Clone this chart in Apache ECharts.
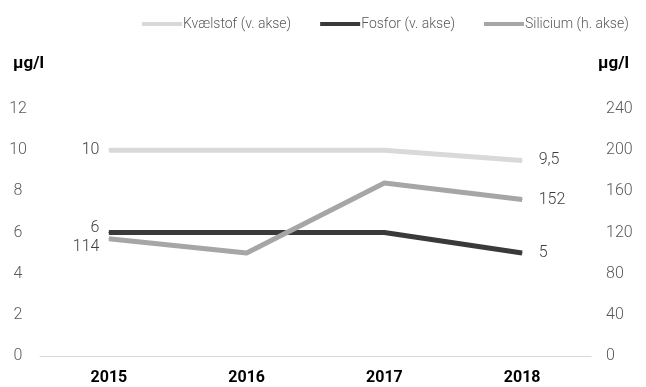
<!DOCTYPE html>
<html><head><meta charset="utf-8">
<script src="https://cdn.jsdelivr.net/npm/echarts@6/dist/echarts.min.js"></script>
<style>html,body{margin:0;padding:0;background:#fff}#c{width:646px;height:387px}</style>
</head><body><div id="c"></div>
<script>
var years = ['2015', '2016', '2017', '2018'];
var kvaelstof = [10, 10, 10, 9.5];
var fosfor = [6, 6, 6, 5];
var silicium = [114, 100, 168, 152];
var leftTicks = [0, 2, 4, 6, 8, 10, 12];
var rightTicks = [0, 40, 80, 120, 160, 200, 240];
var seriesNames = ['Kvælstof (v. akse)', 'Fosfor (v. akse)', 'Silicium (h. akse)'];
var unit = 'µg/l';

function fmt(v) { return String(v).replace('.', ','); }

function labeled(arr, opts) {
  return arr.map(function (v, i) {
    if (i === 0) return { value: v, label: Object.assign({ show: true, position: 'left', distance: 9 }, opts.first || {}) };
    if (i === arr.length - 1) return { value: v, label: Object.assign({ show: true, position: 'right', distance: 16 }, opts.last || {}) };
    return { value: v, label: { show: false } };
  });
}

var font = 'Roboto, "Noto Sans", sans-serif';
var chart = echarts.init(document.getElementById('c'), null, { renderer: 'canvas' });
var labelStyle = { show: true, color: '#404040', fontSize: 16, fontWeight: 300, fontFamily: font, formatter: function (p) { return fmt(p.value); } };

function lineSeries(name, axis, color, data) {
  return {
    name: name, type: 'line', yAxisIndex: axis,
    symbol: 'circle', symbolSize: 1, showSymbol: true,
    lineStyle: { color: color, width: 5 }, itemStyle: { color: color },
    label: labelStyle, data: data
  };
}

chart.setOption({
  animation: false,
  textStyle: { fontFamily: font },
  legend: {
    top: 12, left: 137,
    itemWidth: 40, itemHeight: 4, icon: 'rect', itemGap: 29,
    textStyle: { color: '#595959', fontSize: 14, fontWeight: 300, fontFamily: font, padding: [0, 0, 0, -4] },
    data: seriesNames
  },
  grid: { left: 40, right: 55, top: 109, bottom: 31 },
  xAxis: {
    type: 'category', data: years, boundaryGap: true,
    axisLine: { lineStyle: { color: '#d9d9d9', width: 1 } },
    axisTick: { show: false },
    axisLabel: { color: '#000', fontWeight: 'bold', fontSize: 16, fontFamily: font, margin: 14 }
  },
  yAxis: [{
    type: 'value', min: leftTicks[0], max: leftTicks[leftTicks.length - 1], interval: 2,
    name: unit, nameLocation: 'end', nameGap: 37,
    nameTextStyle: { color: '#000', fontWeight: 'bold', fontSize: 17, fontFamily: font, align: 'center', padding: [0, 23, 0, 0] },
    axisLine: { show: false }, axisTick: { show: false }, splitLine: { show: false },
    axisLabel: { color: '#595959', fontSize: 16, fontWeight: 300, fontFamily: font, align: 'center', margin: 22 }
  }, {
    type: 'value', min: rightTicks[0], max: rightTicks[rightTicks.length - 1], interval: 40,
    name: unit, nameLocation: 'end', nameGap: 37,
    nameTextStyle: { color: '#000', fontWeight: 'bold', fontSize: 17, fontFamily: font, align: 'left', padding: [0, 0, 0, 7] },
    axisLine: { show: false }, axisTick: { show: false }, splitLine: { show: false },
    axisLabel: { color: '#595959', fontSize: 16, fontWeight: 300, fontFamily: font, align: 'left', margin: 15 }
  }],
  series: [
    lineSeries(seriesNames[0], 0, '#d9d9d9', labeled(kvaelstof, {})),
    lineSeries(seriesNames[1], 0, '#3a3a3a', labeled(fosfor, { first: { offset: [0, -5] } })),
    lineSeries(seriesNames[2], 1, '#a6a6a6', labeled(silicium, { first: { offset: [0, 8] } }))
  ]
});
</script></body></html>
